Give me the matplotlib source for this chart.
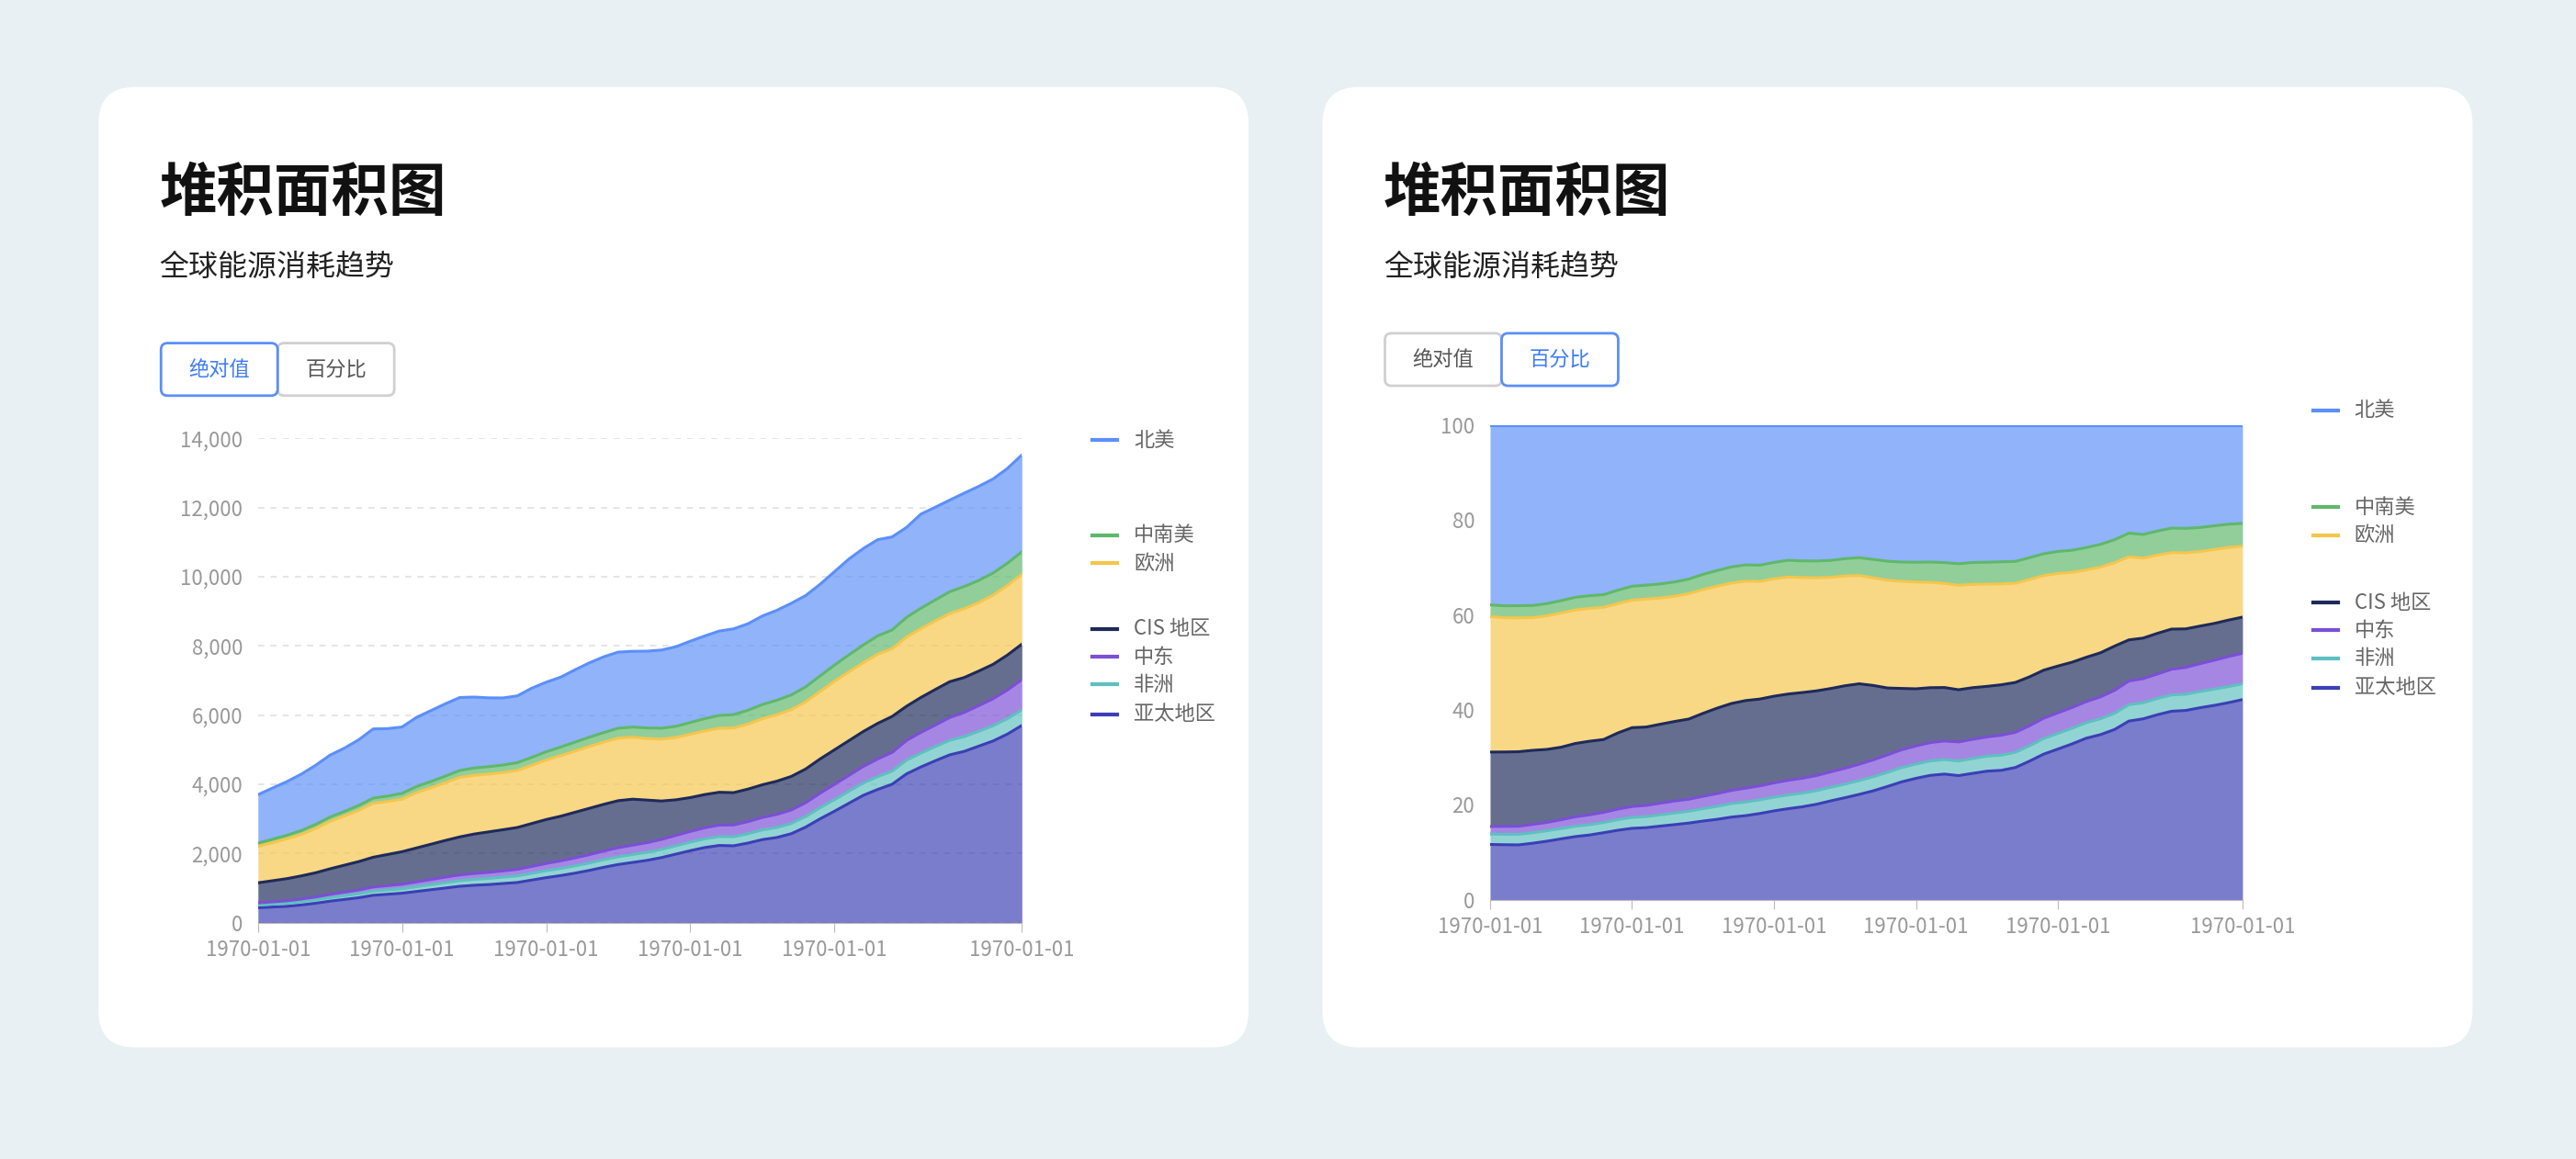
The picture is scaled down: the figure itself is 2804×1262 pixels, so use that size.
import matplotlib
matplotlib.use("Agg")
import matplotlib.pyplot as plt
from matplotlib.patches import FancyBboxPatch, Rectangle
import numpy as np

plt.rcParams['font.family'] = ['Noto Sans CJK SC', 'DejaVu Sans']

years = list(range(1965, 2019))
regions = ["亚太地区", "非洲", "中东", "CIS 地区", "欧洲", "中南美", "北美"]
colors = ["#3B3FB5", "#5EC0C0", "#7B4FD6", "#1E2A5A", "#F5C64C", "#5FB86A", "#5B8FF9"]
asia = [430,450,470,510,560,620,670,720,790,820, 850,900,950,1000,1050,1080,1100,1130,1160,1230,
        1300,1360,1430,1510,1600,1680,1740,1800,1880,1980, 2080,2170,2230,2220,2300,2400,2460,2570,2760,3000,
        3220,3450,3680,3850,4000,4300,4500,4680,4850,4950, 5100,5250,5450,5700]
africa = [80,85,90,95,100,105,110,115,120,125, 130,138,146,155,162,170,178,185,190,195,
          200,205,210,215,220,225,228,232,235,240, 245,252,258,262,270,280,288,295,305,320,
          335,345,355,370,380,395,400,410,420,425, 430,440,445,450]
mideast = [60,65,70,75,80,90,100,110,120,125, 130,140,150,160,165,170,175,180,190,200,
           210,220,230,240,250,260,270,280,290,300, 310,320,330,340,350,360,380,390,400,420,
           440,460,480,510,540,570,600,620,660,700, 740,780,830,870]
cis = [580,610,640,670,700,740,780,820,860,900, 940,980,1020,1060,1100,1140,1170,1190,1210,1240,
       1270,1290,1320,1340,1350,1360,1330,1230,1110,1030, 980,960,950,935,940,945,960,970,975,990,
       1000,1005,1010,1030,1040,990,1010,1030,1035,1010, 1000,995,1010,1030]
europe = [1055,1100,1150,1200,1280,1370,1420,1480,1560,1530, 1520,1600,1630,1670,1720,1700,1670,1650,1650,1680,
          1720,1750,1770,1790,1800,1810,1790,1780,1790,1800, 1830,1840,1850,1870,1880,1910,1920,1930,1940,1950,
          1980,1990,1990,2000,1960,2000,1990,1980,1970,1990, 1980,2000,2010,2020]
csa = [92,98,104,110,118,126,134,142,150,158, 166,174,182,190,200,210,215,220,225,232,
       240,250,258,266,275,285,295,305,315,325, 340,355,370,385,400,410,420,425,435,450,
       470,490,510,530,540,570,590,610,630,640, 640,640,645,650]
namerica = [1400,1480,1550,1630,1710,1790,1830,1900,2000,1950, 1920,2000,2050,2090,2110,2050,1990,1940,1930,2000,
            2010,2020,2090,2150,2190,2200,2190,2220,2260,2300, 2350,2390,2440,2480,2500,2560,2600,2650,2640,2650,
            2700,2770,2790,2780,2690,2600,2720,2680,2650,2700, 2720,2720,2740,2800]
series = [asia, africa, mideast, cis, europe, csa, namerica]
xticks = [1965, 1975, 1985, 1995, 2005, 2018]
xticklabels = ["1970-01-01"] * 6
legend_order = ["北美", "中南美", "欧洲", "CIS 地区", "中东", "非洲", "亚太地区"]

W, H = 1568, 706
fig = plt.figure(figsize=(28.04, 12.62), dpi=100)
fig.patch.set_facecolor("#E8F0F3")
bg = fig.add_axes([0, 0, 1, 1])
bg.set_xlim(0, W); bg.set_ylim(H, 0); bg.axis("off")

def rect(x0, y0, x1, y1):
    return [x0 / W, 1 - y1 / H, (x1 - x0) / W, (y1 - y0) / H]

for cx in (60, 805):
    bg.add_patch(FancyBboxPatch((cx + 20, 73), 660, 545, boxstyle="round,pad=20,rounding_size=22",
                                fc="white", ec="none"))

data = np.array(series, dtype=float)
pct = data / data.sum(axis=0) * 100

def panel(ox, data, ymax, yticks, ylabels, grid, plotbox, btny, sel, legy):
    bg.text(ox + 37, 118, "堆积面积图", fontsize=45, fontweight="bold", va="center", ha="left", color="#111")
    bg.text(ox + 37, 163, "全球能源消耗趋势", fontsize=23, va="center", ha="left", color="#222")
    bx = ox + 38
    for i, lab in enumerate(["绝对值", "百分比"]):
        x0 = bx + i * 71
        active = (i == sel)
        bg.add_patch(FancyBboxPatch((x0, btny), 71, 32, boxstyle="round,pad=0,rounding_size=4",
                                    fc="white", ec="#5B8FF9" if active else "#D0D0D0", lw=2, zorder=3 if active else 2))
        bg.text(x0 + 35.5, btny + 16, lab, fontsize=16, ha="center", va="center",
                color="#3D7BF7" if active else "#555", zorder=4)
    ax = fig.add_axes(rect(*plotbox))
    cum = np.zeros(data.shape[1])
    for s, c in zip(data, colors):
        ax.fill_between(years, cum, cum + s, color=c, alpha=0.68, lw=0)
        ax.plot(years, cum + s, color=c, lw=2.2)
        cum = cum + s
    ax.set_xlim(1965, 2018); ax.set_ylim(0, ymax)
    ax.set_yticks(yticks); ax.set_yticklabels(ylabels)
    ax.set_xticks(xticks); ax.set_xticklabels(xticklabels)
    ax.tick_params(axis="y", length=0, labelsize=16, labelcolor="#999", pad=12)
    ax.tick_params(axis="x", length=7, color="#BBB", labelsize=16, labelcolor="#999", pad=6)
    for k in ("top", "right", "left"):
        ax.spines[k].set_visible(False)
    ax.spines["bottom"].set_color("#BBB")
    if grid:
        ax.grid(axis="y", ls=(0, (4, 4)), color="#E0E0E0", lw=1.2)
        ax.set_axisbelow(True)
    lx = plotbox[2] + 43
    cmap = dict(zip(regions, colors))
    for name, y in zip(legend_order, legy):
        bg.plot([lx, lx + 15], [y, y], color=cmap[name], lw=3)
        bg.text(lx + 25, y, name, fontsize=16, va="center", ha="left", color="#666")
    return ax

panel(60, data, 14000, list(range(0, 14001, 2000)), [f"{v:,}" for v in range(0, 14001, 2000)], True,
      (157, 267, 622, 562), 209, 0, [268, 326, 343, 383, 400, 417, 435])
panel(805, pct, 100, list(range(0, 101, 20)), [str(v) for v in range(0, 101, 20)], False,
      (907, 259, 1365, 548), 203, 1, [250, 309, 326, 367, 384, 401, 419])

fig.savefig("out.png", dpi=100, facecolor=fig.get_facecolor())
